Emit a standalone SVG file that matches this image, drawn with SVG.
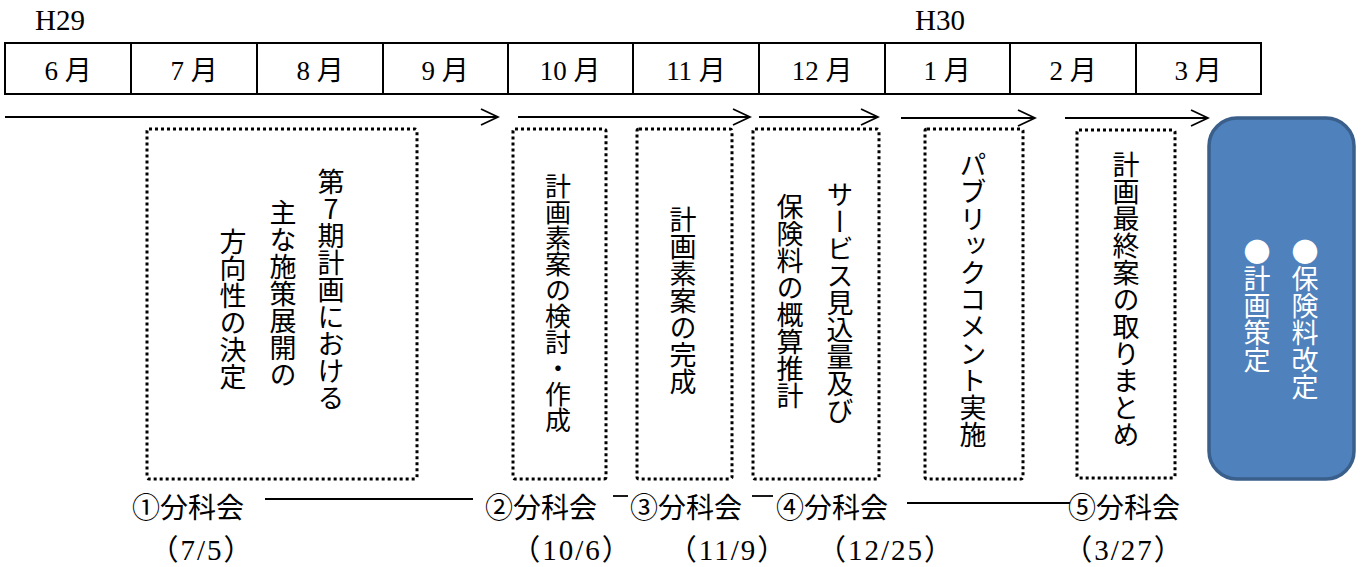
<svg xmlns="http://www.w3.org/2000/svg" width="1362" height="567" viewBox="0 0 1362 567">
<defs>
<style>
.hdr{font-family:"Liberation Serif","Noto Sans CJK JP",serif;font-size:29px;fill:#000}
.mon{font-family:"Liberation Serif","Noto Sans CJK JP",serif;font-size:27px;fill:#000;text-anchor:middle}
.cell{fill:none;stroke:#000;stroke-width:2}
.arr{fill:none;stroke:#000;stroke-width:1.8}
.dot{fill:none;stroke:#000;stroke-width:3;stroke-dasharray:3 3}
.vt{font-family:"Noto Sans CJK JP",sans-serif;font-size:27px;fill:#000;writing-mode:vertical-rl;text-orientation:upright}
.vw{font-family:"Noto Sans CJK JP",sans-serif;font-size:27px;fill:#fff;writing-mode:vertical-rl}
.lbl{font-family:"Noto Sans CJK JP",sans-serif;font-size:28px;fill:#000}
.dt{font-family:"Liberation Serif","Noto Sans CJK JP",serif;font-size:29px;letter-spacing:2px;fill:#000;text-anchor:middle}
.ln{stroke:#000;stroke-width:1.8}
</style>
<marker id="ah" viewBox="0 0 20 20" refX="18" refY="10" markerWidth="20" markerHeight="20" markerUnits="userSpaceOnUse" orient="auto">
<path d="M1,2 L18,10 L1,18" fill="none" stroke="#000" stroke-width="1.8"/>
</marker>
</defs>
<rect width="1362" height="567" fill="#fff"/>

<g id="header">
<text class="hdr" x="35" y="30">H29</text>
<text class="hdr" x="915" y="30">H30</text>
<rect class="cell" x="5" y="43" width="1256" height="51"/>
<path class="cell" d="M131,43V94M257,43V94M383,43V94M508,43V94M633,43V94M759,43V94M885,43V94M1010,43V94M1136,43V94"/>
<text class="mon" x="68" y="80">6 月</text>
<text class="mon" x="194" y="80">7 月</text>
<text class="mon" x="320" y="80">8 月</text>
<text class="mon" x="445" y="80">9 月</text>
<text class="mon" x="570" y="80">10 月</text>
<text class="mon" x="696" y="80">11 月</text>
<text class="mon" x="822" y="80">12 月</text>
<text class="mon" x="947" y="80">1 月</text>
<text class="mon" x="1073" y="80">2 月</text>
<text class="mon" x="1198" y="80">3 月</text>
</g>

<g id="connectors">
<line class="arr" x1="5" y1="117" x2="498" y2="117" marker-end="url(#ah)"/>
<line class="arr" x1="518" y1="117" x2="750" y2="117" marker-end="url(#ah)"/>
<line class="arr" x1="759" y1="117" x2="878" y2="117" marker-end="url(#ah)"/>
<line class="arr" x1="901" y1="118" x2="1035" y2="118" marker-end="url(#ah)"/>
<line class="arr" x1="1065" y1="118" x2="1208" y2="118" marker-end="url(#ah)"/>
<line class="ln" x1="265" y1="499" x2="473" y2="499"/>
<line class="ln" x1="613" y1="496" x2="628" y2="496"/>
<line class="ln" x1="752" y1="496" x2="773" y2="496"/>
<line class="ln" x1="907" y1="503" x2="1070" y2="503"/>
</g>

<g id="box1">
<rect class="dot" x="147" y="129" width="270" height="350" rx="2"/>
<text class="vt" x="331" y="168">第7期計画における</text>
<text class="vt" x="283" y="199">主な施策展開の</text>
<text class="vt" x="233" y="228">方向性の決定</text>
</g>
<g id="box2">
<rect class="dot" x="513" y="129" width="93" height="350" rx="2"/>
<text class="vt" x="558" y="173" style="font-size:26px">計画素案の検討・作成</text>
</g>
<g id="box3">
<rect class="dot" x="637" y="129" width="95" height="350" rx="2"/>
<text class="vt" x="683" y="206">計画素案の完成</text>
</g>
<g id="box4">
<rect class="dot" x="753" y="129" width="126" height="350" rx="2"/>
<text class="vt" x="840" y="181">サービス見込量及び</text>
<text class="vt" x="790" y="193">保険料の概算推計</text>
</g>
<g id="box5">
<rect class="dot" x="925" y="129" width="98" height="350" rx="2"/>
<text class="vt" x="973" y="151">パブリックコメント実施</text>
</g>
<g id="box6">
<rect class="dot" x="1077" y="130" width="98" height="348" rx="2"/>
<text class="vt" x="1126" y="151">計画最終案の取りまとめ</text>
</g>
<g id="result">
<rect x="1209" y="118" width="145" height="361" rx="28" fill="#4F81BD" stroke="#3A5F8B" stroke-width="3.5"/>
<text class="vw" x="1305" y="238">●保険料改定</text>
<text class="vw" x="1257" y="238">●計画策定</text>
</g>

<g id="meetings">
<text class="lbl" x="132" y="518">①分科会</text>
<text class="lbl" x="485" y="518">②分科会</text>
<text class="lbl" x="630" y="518">③分科会</text>
<text class="lbl" x="776" y="518">④分科会</text>
<text class="lbl" x="1068" y="518">⑤分科会</text>
<text class="dt" x="202" y="560">（7/5）</text>
<text class="dt" x="572" y="560">（10/6）</text>
<text class="dt" x="728" y="560">（11/9）</text>
<text class="dt" x="886" y="560">（12/25）</text>
<text class="dt" x="1124" y="560">（3/27）</text>
</g>
</svg>
